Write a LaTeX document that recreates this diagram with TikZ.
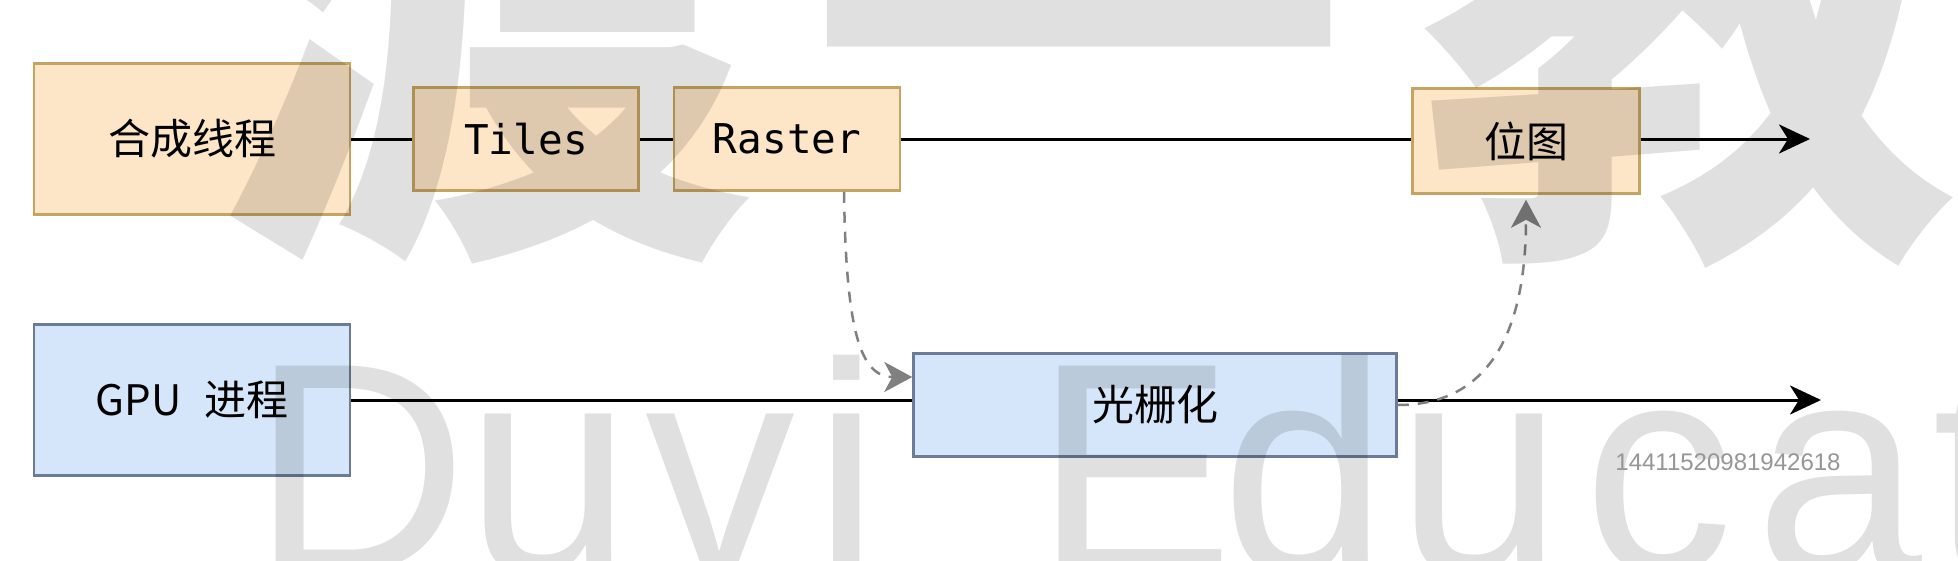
\documentclass[tikz,border=0pt]{standalone}
\usepackage{fontspec}
\usetikzlibrary{arrows.meta}

\newfontfamily\cjk{Noto Sans CJK SC}
\newfontfamily\codefont{DejaVu Sans Mono}
\newfontfamily\wmfont{Liberation Sans}

\definecolor{boxorange}{RGB}{253,229,200}
\definecolor{lineorange}{RGB}{196,164,96}
\definecolor{boxblue}{RGB}{214,230,250}
\definecolor{lineblue}{RGB}{108,124,150}
\definecolor{dashgray}{RGB}{128,128,128}
\definecolor{idgray}{RGB}{150,150,150}

\begin{document}
\begin{tikzpicture}[x=1pt, y=-1pt, line join=miter,
  obox/.style={draw=lineorange, fill=boxorange, line width=2.5pt, inner sep=0pt},
  bbox/.style={draw=lineblue, fill=boxblue, line width=2.5pt, inner sep=0pt},
  cjklabel/.style={font=\cjk\fontsize{42}{48}\selectfont},
  codelabel/.style={font=\codefont\fontsize{41}{48}\selectfont},
  link/.style={line width=3pt},
  flow/.style={line width=3pt, -{Stealth[length=31pt, width=29pt, inset=9pt]}},
  dashlink/.style={draw=dashgray, line width=2.5pt, dash pattern=on 11pt off 9pt,
    -{Stealth[length=28pt, width=30pt, inset=8pt]}},
  wmlatin/.style={font=\wmfont\fontsize{300}{300}\selectfont, text opacity=0.12, inner sep=0pt},
  wmcjk/.style={font=\cjk\bfseries\fontsize{540}{540}\selectfont, text opacity=0.12, inner sep=0pt}]

  % page
  \useasboundingbox (0,0) rectangle (1958,560);
  \clip (0,0) rectangle (1958,560);
  \fill[white] (0,0) rectangle (1958,560);

  % compositor thread row
  \node[obox, minimum width=316pt, minimum height=151pt, cjklabel] (comp) at (192,139) {合成线程};
  \node[obox, minimum width=225pt, minimum height=103pt, codelabel] (tiles) at (526,139) {Tiles};
  \node[obox, minimum width=226pt, minimum height=103pt, codelabel] (raster) at (787,139) {Raster};
  \node[obox, minimum width=227pt, minimum height=105pt, cjklabel] (bitmap) at (1526,141) {位图};
  \coordinate (topend) at (1810,139);

  % GPU process row
  \node[bbox, minimum width=316pt, minimum height=151pt, cjklabel] (gpu) at (192,400) {GPU\hspace{0.55em}进程};
  \node[bbox, minimum width=483pt, minimum height=103pt, cjklabel] (rasterize) at (1155,405) {光栅化};
  \coordinate (botend) at (1821,400);

  % timelines
  \draw[link] (comp) -- (tiles);
  \draw[link] (tiles) -- (raster);
  \draw[link] (raster.east) -- (raster.east -| bitmap.west);
  \draw[flow] (bitmap.east |- topend) -- (topend);
  \draw[link] (gpu.east) -- (gpu.east -| rasterize.west);
  \draw[flow] (rasterize.east |- botend) -- (botend);

  % hand-over between the threads
  \draw[dashlink] ([xshift=57pt]raster.south) .. controls +(2,140) and +(-52,0) .. ([yshift=28pt]rasterize.west);
  \draw[dashlink] (rasterize.east) .. controls +(93,0) and +(0,130) .. ([yshift=-5pt]bitmap.south);

  % watermark
  \foreach \ch/\x in {渡/485,一/1078,教/1690}
    \node[wmcjk, anchor=base] (wmc-\x) at (\x,214) {\ch};
  \foreach \ch/\x in {D/360,u/549,v/720,i/847,E/1135,d/1305,u/1480,c/1658,a/1839,t/1974}
    \node[wmlatin, anchor=base] (wml-\x) at (\x,572) {\ch};
  \node[font=\wmfont\fontsize{24}{24}\selectfont, text=idgray, inner sep=0pt] (uid) at (1728,462) {14411520981942618};

\end{tikzpicture}
\end{document}
